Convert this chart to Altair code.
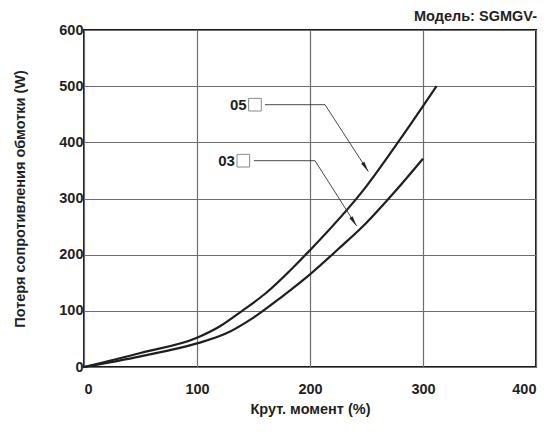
import altair as alt
import pandas as pd

# Curve data (torque %, winding resistance loss W)
x05 = [0, 50, 100, 120, 140, 160, 200, 250, 280, 312]
y05 = [0, 25, 52, 72, 100, 130, 208, 322, 406, 500]
x03 = [0, 50, 100, 125, 150, 175, 200, 225, 250, 275, 300]
y03 = [0, 19, 42, 59, 88, 125, 165, 210, 257, 312, 371]

x_ticks = [0, 100, 200, 300, 400]
y_ticks = [0, 100, 200, 300, 400, 500, 600]

# Annotation callouts (data units)
ann_names = ["05", "03"]
ann_text_x = [144, 133.6]
ann_box_x = [151.3, 141]
ann_y = [467, 367.3]
lead_x0 = [160.2, 150.4]
lead_x1 = [213.3, 204.4]
tip_x = [251.6, 241.3]
tip_y = [348, 251]
tip_angle = [148, 147]

FONT = "Liberation Sans"
INK = "#1f1f1f"
W = "bold"
FS = 14.5

curves = pd.DataFrame(
    [{"s": "05", "x": a, "y": b, "i": i} for i, (a, b) in enumerate(zip(x05, y05))]
    + [{"s": "03", "x": a, "y": b, "i": i} for i, (a, b) in enumerate(zip(x03, y03))]
)

lead_rows = []
for n, a0, a1, yy, tx, ty in zip(ann_names, lead_x0, lead_x1, ann_y, tip_x, tip_y):
    lead_rows += [
        {"s": n, "x": a0, "y": yy, "i": 0},
        {"s": n, "x": a1, "y": yy, "i": 1},
        {"s": n, "x": tx, "y": ty, "i": 2},
    ]
leads = pd.DataFrame(lead_rows)

ann = pd.DataFrame({
    "s": ann_names, "tx": ann_text_x, "bx": ann_box_x, "y": ann_y,
    "tipx": tip_x, "tipy": tip_y, "ang": tip_angle,
})

xs = alt.Scale(domain=[0, 400], nice=False, zero=False)
ys = alt.Scale(domain=[0, 600], nice=False, zero=False)

x_axis = alt.Axis(
    values=x_ticks, title="Крут. момент (%)", grid=True, ticks=False, domain=False,
    labelFont=FONT, labelFontSize=FS, labelFontWeight=W, labelColor=INK, labelPadding=15,
    titleFont=FONT, titleFontSize=FS, titleFontWeight=W, titleColor=INK,
    titlePadding=7, gridColor="#6e6e6e", gridWidth=1.2,
)
y_axis = alt.Axis(
    values=y_ticks, title="Потеря сопротивления обмотки (W)", grid=True, ticks=False,
    domain=False, labelFont=FONT, labelFontSize=FS, labelFontWeight=W, labelColor=INK,
    labelPadding=1, titleFont=FONT, titleFontSize=FS, titleFontWeight=W, titleColor=INK,
    titlePadding=31, gridColor="#6e6e6e", gridWidth=1.2,
)

lines = alt.Chart(curves).mark_line(
    color=INK, strokeWidth=2.2, interpolate="monotone"
).encode(
    x=alt.X("x:Q", scale=xs, axis=x_axis),
    y=alt.Y("y:Q", scale=ys, axis=y_axis),
    detail="s:N",
    order="i:Q",
)

leader = alt.Chart(leads).mark_line(color="#333333", strokeWidth=0.9).encode(
    x=alt.X("x:Q", scale=xs), y=alt.Y("y:Q", scale=ys), detail="s:N", order="i:Q"
)

heads = alt.Chart(ann).mark_point(
    shape="M0,0L0.36,2L-0.36,2Z", filled=True, color="#222222", size=110, opacity=1
).encode(
    x=alt.X("tipx:Q", scale=xs), y=alt.Y("tipy:Q", scale=ys),
    angle=alt.Angle("ang:Q", scale=None),
)

labels = alt.Chart(ann).mark_text(
    font=FONT, fontSize=15, fontWeight=W, color=INK, align="right", baseline="middle"
).encode(x=alt.X("tx:Q", scale=xs), y=alt.Y("y:Q", scale=ys), text="s:N")

boxes = alt.Chart(ann).mark_point(
    shape="square", filled=False, color="#8a8a8a", size=160, strokeWidth=1, opacity=1
).encode(x=alt.X("bx:Q", scale=xs), y=alt.Y("y:Q", scale=ys))

title = alt.Chart(pd.DataFrame({"t": ["Модель: SGMGV-"]})).mark_text(
    font=FONT, fontSize=FS, fontWeight=W, color=INK, align="right", baseline="middle"
).encode(x=alt.value(453), y=alt.value(-13), text="t:N")

chart = alt.layer(lines, leader, heads, labels, boxes, title).properties(
    width=452, height=337,
    autosize=alt.AutoSizeParams(type="none"),
    padding={"left": 76, "top": 22, "right": 7, "bottom": 62},
    background="white",
).configure_view(stroke="#1a1a1a", strokeWidth=2)

chart.save("out.html", embed_options={"renderer": "svg", "actions": False})
